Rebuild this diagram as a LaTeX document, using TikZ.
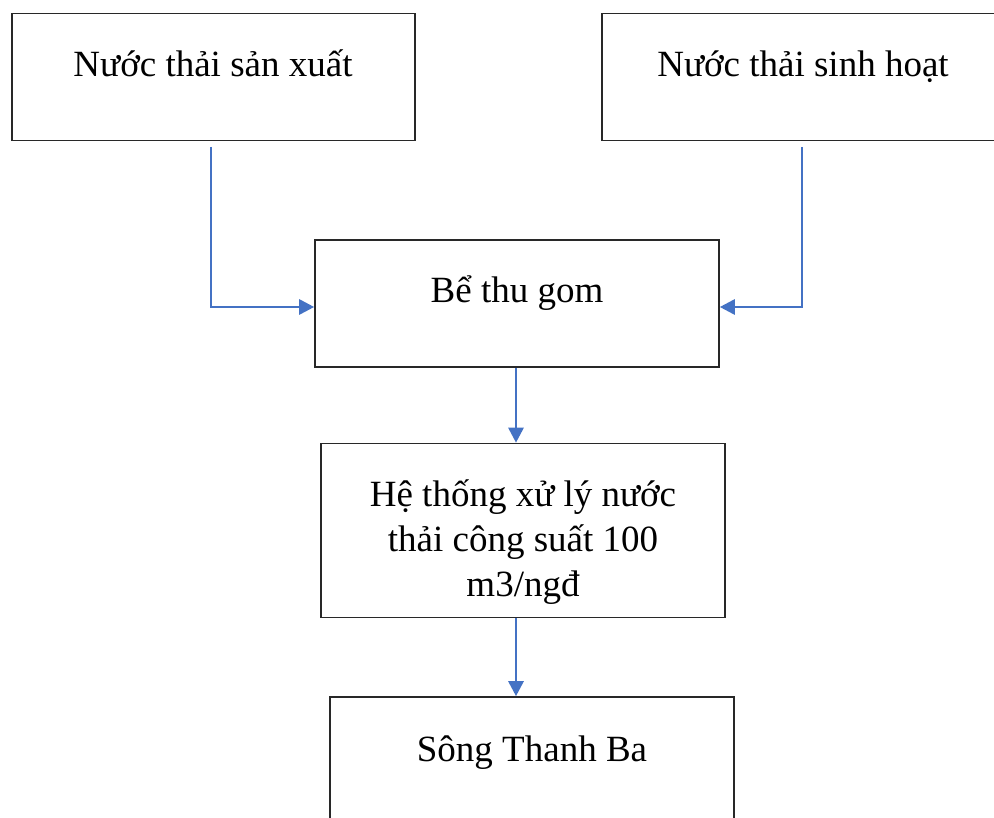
\documentclass[tikz,border=0pt]{standalone}
\usepackage{fontspec}
\setmainfont{Liberation Serif}
\usetikzlibrary{arrows.meta}
\definecolor{flowblue}{RGB}{68,114,196}
\definecolor{boxline}{RGB}{40,40,40}
\tikzset{
  box/.style={draw=boxline, line width=1.6pt, rectangle, inner sep=0pt, fill=white},
  txt/.style={font=\fontsize{37}{45}\selectfont, inner sep=0pt, align=center},
  arr/.style={draw=flowblue, line width=2.8pt, -{Triangle[width=15pt,length=15pt]}}
}
\begin{document}
\begin{tikzpicture}[x=1pt,y=-1pt]
\useasboundingbox (0,0) rectangle (994,818);
\clip (0,0) rectangle (994,818);
\fill[white] (0,0) rectangle (994,818);
% boxes
\node[box, minimum width=403pt, minimum height=127pt] (b1) at (213.5,77) {};
\node[box, minimum width=402pt, minimum height=127pt] (b2) at (803,77) {};
\node[box, minimum width=404pt, minimum height=127pt] (b3) at (517,303.5) {};
\node[box, minimum width=404pt, minimum height=174pt] (b4) at (523,530.5) {};
\node[box, minimum width=404pt, minimum height=130pt] (b5) at (532,762) {};
% texts
\node[txt, anchor=base] (t1) at (213,77) {Nước thải sản xuất};
\node[txt, anchor=base] (t2) at (803,77) {Nước thải sinh hoạt};
\node[txt, anchor=base] (t3) at (517,303) {Bể thu gom};
\node[txt, anchor=base] (t4) at (523,596) {Hệ thống xử lý nước\\thải công suất 100\\m3/ngđ};
\node[txt, anchor=base] (t5) at (532,761) {Sông Thanh Ba};
% connector start points
\coordinate (s1) at (211,147);
\coordinate (s2) at (802,147);
% connectors
\draw[arr] (s1) |- ([yshift=-3.5pt]b3.west);
\draw[arr] (s2) |- ([yshift=-3.5pt]b3.east);
\draw[arr] ([xshift=-1pt]b3.south) -- ([xshift=-1pt]b3.south |- b4.north);
\draw[arr] ([xshift=-7pt]b4.south) -- ([xshift=-7pt]b4.south |- b5.north);
\end{tikzpicture}
\end{document}
